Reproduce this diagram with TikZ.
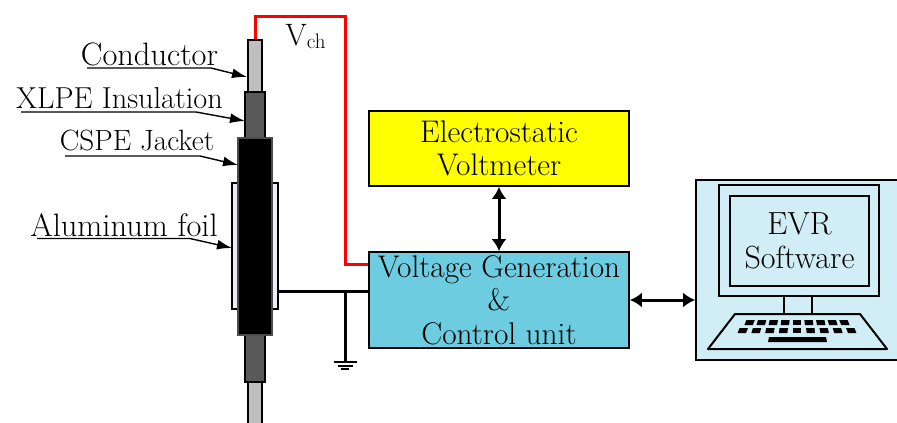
\documentclass[tikz,border=0pt]{standalone}
\usetikzlibrary{arrows.meta}
\definecolor{WireClr}{rgb}{1,0,0}
\definecolor{CondClr}{rgb}{0.75,0.75,0.75}
\definecolor{XlpeClr}{rgb}{0.35,0.35,0.35}
\definecolor{FoilClr}{rgb}{0.93,0.93,0.96}
\definecolor{EsvClr}{rgb}{1,1,0}
\definecolor{GenClr}{rgb}{0.43,0.80,0.88}
\definecolor{PcClr}{rgb}{0.82,0.93,0.96}

\begin{document}
\begin{tikzpicture}[x=1pt,y=-1pt,
  layer/.style={draw=black,line width=1.5pt,inner sep=0pt},
  block/.style={draw=black,line width=1.8pt,inner sep=0pt,align=center,minimum width=260pt,font=\fontsize{31.3}{33.5}\selectfont},
  callout/.style={inner sep=1pt,font=\fontsize{#1}{34}\selectfont},
  leader/.style={line width=1.4pt,-{Latex[length=15pt,width=10pt]}},
  bus/.style={line width=3pt,{Latex[length=12pt,width=15pt]}-{Latex[length=12pt,width=15pt]}}]
\useasboundingbox (0,0) rectangle (897,423);
\clip (0,0) rectangle (897,423);

% cable
\node[layer,fill=CondClr,minimum width=14pt,minimum height=390pt] (conductor) at (255,235) {};
\node[layer,fill=FoilClr,minimum width=46pt,minimum height=126pt] (foil) at (255,246) {};
\node[layer,fill=XlpeClr,minimum width=20pt,minimum height=290pt] (xlpe) at (255,237) {};
\node[layer,fill=black,draw=black!70,minimum width=34pt,minimum height=197pt] (jacket) at (255,236.5) {};

% callouts
\node[callout=32.4] (lblcond) at (149.5,54) {Conductor};
\node[callout=30.3] (lblxlpe) at (119.5,98) {XLPE Insulation};
\node[callout=29.3] (lblcspe) at (137,140) {CSPE Jacket};
\node[callout=32.4] (lblfoil) at (124,225) {Aluminum foil};
\coordinate (tipcond) at (247,77);
\coordinate (tipxlpe) at (245,121);
\coordinate (tipcspe) at (238,165);
\coordinate (tipfoil) at (232,248);
\draw[leader] (87,68) -- (211,68) -- (tipcond);
\draw[leader] (21,112) -- (196,112) -- (tipxlpe);
\draw[leader] (65,156) -- (200,156) -- (tipcspe);
\draw[leader] (37,238.5) -- (190,238.5) -- (tipfoil);

% blocks
\node[block,fill=EsvClr,minimum height=75pt] (esv) at (499,148.5) {Electrostatic\\Voltmeter};
\node[block,fill=GenClr,minimum height=96pt] (gen) at (499,300) {Voltage Generation\\\&\\Control unit};

% wires
\coordinate (vtop) at (345,16);
\coordinate (vturn) at (345,264);
\coordinate (gndjoin) at (345,291);
\coordinate (gndend) at (345,362);
\draw[WireClr,line width=3pt,line join=miter] (conductor.north) |- (vtop) -- (vturn) -- (vturn -| gen.west);
\draw[line width=3pt] (foil.east |- gndjoin) -- (gndjoin -| gen.west);
\draw[line width=3pt] (gndjoin) -- (gndend);
\draw[line width=2pt] (334,362) -- (357,362);
\draw[line width=2pt] (338,365.5) -- (353,365.5);
\draw[line width=2pt] (341,369) -- (349,369);
\node[inner sep=0pt,font=\fontsize{31}{34}\selectfont] (vch) at (305.5,36) {V\raisebox{-3pt}{\fontsize{21}{24}\selectfont ch}};

% computer
\node[draw=black,line width=1.8pt,fill=PcClr,minimum width=209pt,minimum height=180pt] (pc) at (800.5,270) {};
\node[draw=black,line width=2pt,minimum width=160pt,minimum height=111pt] (monitor) at (799,240.5) {};
\node[draw=black,line width=2pt,align=center,minimum width=139pt,minimum height=90pt,inner sep=0pt,font=\fontsize{32}{34}\selectfont] (screen) at (799.5,241) {EVR\\Software};
\draw[line width=2pt] (784,296) -- (784,314);
\draw[line width=2pt] (812,296) -- (812,314);
\draw[line width=2pt,line join=round] (735,314) -- (860,314) -- (887,349) -- (708,349) -- cycle;
\foreach \ytop/\ptop/\pbot in {320/11.6/12.1,328/13.3/13.8}
  \foreach \c in {-4,...,4}
    \fill ({797+\c*\ptop-4.2},\ytop) -- ({797+\c*\ptop+4.2},\ytop)
      -- ({797+\c*\pbot+4.2},\ytop+5) -- ({797+\c*\pbot-4.2},\ytop+5) -- cycle;
\fill (769,337) -- (826,337) -- (827,342) -- (768,342) -- cycle;

% links
\draw[bus] (esv.south) -- (gen.north);
\draw[bus] (gen.east) -- (gen.east -| pc.west);
\end{tikzpicture}
\end{document}
